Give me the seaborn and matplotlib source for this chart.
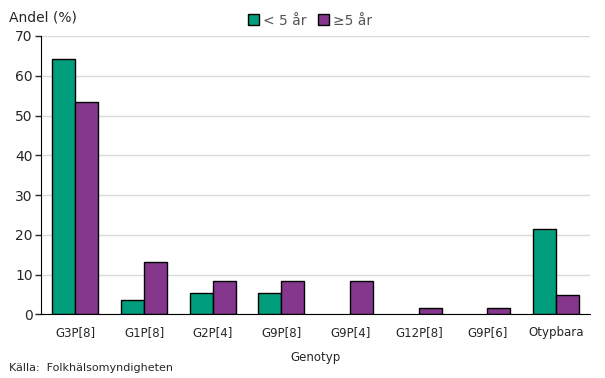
import matplotlib
matplotlib.use("Agg")
import matplotlib.pyplot as plt
import seaborn as sns
import pandas as pd

genotypes = ["G3P[8]", "G1P[8]", "G2P[4]", "G9P[8]", "G9P[4]", "G12P[8]", "G9P[6]", "Otypbara"]
under5 = [64.3, 3.6, 5.4, 5.4, 0, 0, 0, 21.4]
over5 = [53.3, 13.3, 8.3, 8.3, 8.3, 1.7, 1.7, 5.0]
groups = ["< 5 år", "≥5 år"]

df = pd.DataFrame({
    "Genotyp": genotypes * 2,
    "Andel": under5 + over5,
    "grupp": [groups[0]] * len(genotypes) + [groups[1]] * len(genotypes),
})

sns.set_style("white")
plt.rcParams["font.family"] = ["DejaVu Sans"]

fig = plt.figure(figsize=(6.05, 3.78), dpi=100)
ax = fig.add_axes([0.068, 0.168, 0.908, 0.737])

sns.barplot(data=df, x="Genotyp", y="Andel", hue="grupp",
            palette=["#009E7C", "#84378C"], width=0.67,
            edgecolor="black", linewidth=1, saturation=1, ax=ax)

ax.set_ylim(0, 70)
ax.set_yticks(range(0, 71, 10))
ax.set_xlim(-0.5, 7.5)
ax.yaxis.grid(True, color="#d9d9d9", linewidth=1)
ax.set_axisbelow(True)
for s in ["top", "right"]:
    ax.spines[s].set_visible(False)
ax.spines["left"].set_color("black")
ax.spines["bottom"].set_color("black")
ax.tick_params(axis="y", length=4, width=1, labelsize=10, left=True, pad=2)
ax.tick_params(axis="x", length=0, labelsize=8.5, pad=8)
ax.set_ylabel("")
ax.set_xlabel("Genotyp", fontsize=8.5)
ax.xaxis.set_label_coords(0.5, -0.13)

fig.text(0.015, 0.955, "Andel (%)", fontsize=10, ha="left", va="center")
fig.text(0.015, 0.027, "Källa:  Folkhälsomyndigheten", fontsize=8, ha="left", va="center")

ax.legend(loc="center", bbox_to_anchor=(0.49, 1.055), ncol=2, frameon=False,
          fontsize=10, handlelength=0.8, handleheight=0.8, handletextpad=0.3,
          columnspacing=0.8, labelcolor="#555555")

# hide the empty (0 %) bars so no outline is drawn on the axis
for bar in ax.patches:
    if bar.get_height() == 0:
        bar.set_visible(False)

fig.savefig("out.png", dpi=100)
